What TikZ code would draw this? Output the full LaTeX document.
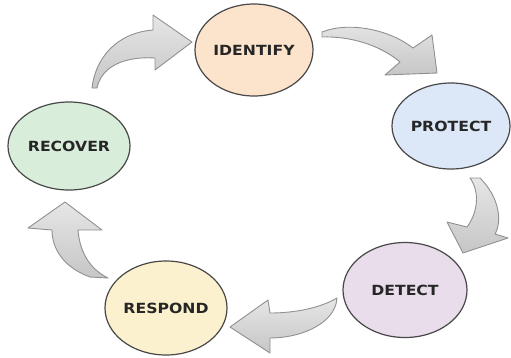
\documentclass[tikz,border=0pt]{standalone}
\usepackage{fontspec}
\setmainfont{DejaVu Sans}[FakeStretch=1.12]
\usetikzlibrary{shapes.geometric}
\definecolor{edgegray}{HTML}{484848}
\definecolor{txtgray}{HTML}{262626}
\definecolor{cIdent}{HTML}{FCE3CB}
\definecolor{cRecov}{HTML}{D8EDDA}
\definecolor{cProt}{HTML}{DCE8F8}
\definecolor{cDet}{HTML}{E9DDEC}
\definecolor{cResp}{HTML}{FCF1CE}
\definecolor{arrLight}{HTML}{E6E6E6}
\definecolor{arrDark}{HTML}{C6C6C6}
\definecolor{arrEdge}{HTML}{909090}
\tikzset{
  phase/.style={ellipse, draw=edgegray, line width=1.2pt, inner sep=0pt,
    font=\fontsize{14}{16}\selectfont\bfseries, text=txtgray},
  blockarrow/.style={draw=arrEdge, line width=0.9pt, line join=round,
    top color=arrLight, bottom color=arrDark}
}
\begin{document}
\begin{tikzpicture}[x=1pt, y=-1pt]
\useasboundingbox (0,0) rectangle (511,357);
% phases
\node[phase, fill=cIdent, minimum width=118pt, minimum height=92pt] (identify) at (254,50) {IDENTIFY};
\node[phase, fill=cProt,  minimum width=118pt, minimum height=86pt] (protect)  at (451,126) {PROTECT};
\node[phase, fill=cDet,   minimum width=124pt, minimum height=95pt] (detect)   at (405,290) {DETECT};
\node[phase, fill=cResp,  minimum width=122pt, minimum height=94pt] (respond)  at (166,308) {RESPOND};
\node[phase, fill=cRecov, minimum width=122pt, minimum height=88pt] (recover)  at (69,146) {RECOVER};
% curved block arrows
% recover -> identify
\shade[blockarrow] (92,88) .. controls (95,60) and (115,33) .. (153,30) -- (153,15) -- (192,42) -- (155,70) -- (155,58)
  .. controls (122,56) and (101,68) .. (97,88) -- cycle;
% identify -> protect
\shade[blockarrow] (322,32) .. controls (350,21) and (390,30) .. (413,48) -- (432,35) -- (437,73) -- (385,75) -- (400,62)
  .. controls (380,45) and (350,36) .. (322,37) -- cycle;
% protect -> detect
\shade[blockarrow] (470,178) -- (480,178) .. controls (500,198) and (502,222) .. (495,234) -- (508,238) -- (463,253) -- (447,222) -- (467,227)
  .. controls (478,212) and (480,192) .. (470,178) -- cycle;
% detect -> respond
\shade[blockarrow] (337,298) .. controls (320,308) and (295,313) .. (270,313) -- (268,300) -- (230,327) -- (270,353) -- (270,338)
  .. controls (300,338) and (330,325) .. (336,304) -- cycle;
% respond -> recover
\shade[blockarrow] (65,202) -- (102,230) -- (78,230) .. controls (80,255) and (92,270) .. (108,278) -- (90,277)
  .. controls (65,268) and (52,250) .. (52,230) -- (28,228) -- cycle;
\end{tikzpicture}
\end{document}
